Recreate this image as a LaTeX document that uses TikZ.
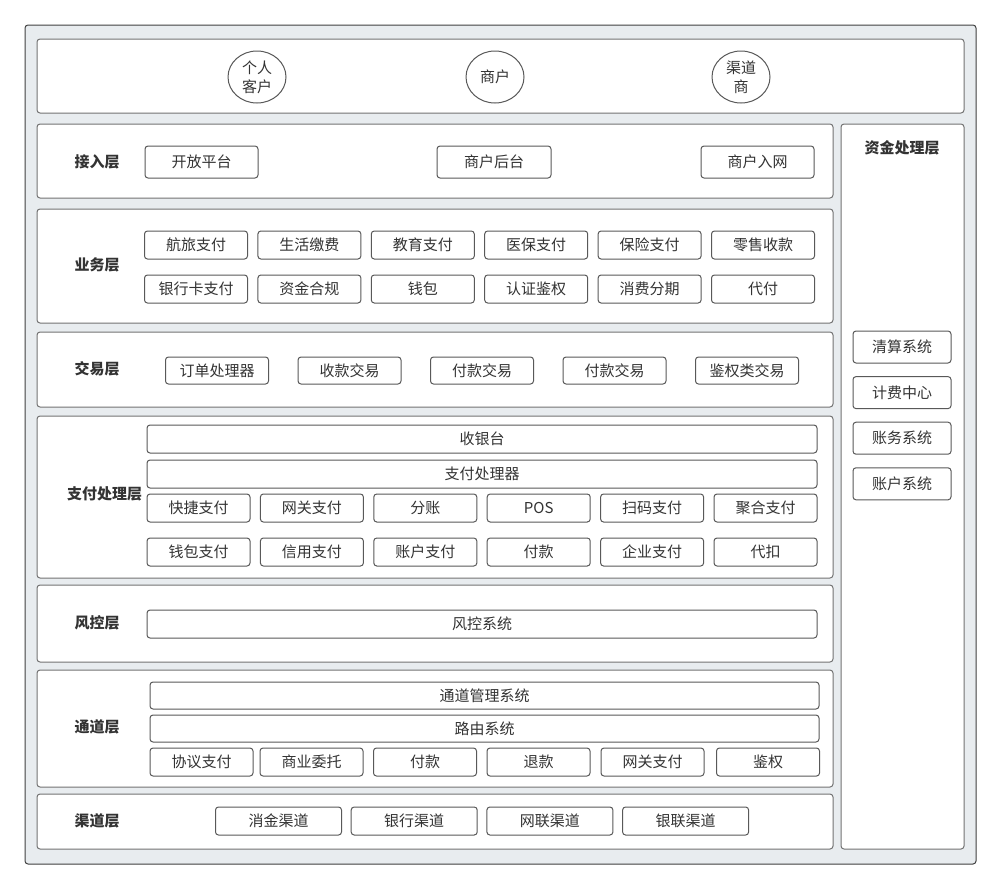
\documentclass[tikz,border=0pt]{standalone}
\usepackage{fontspec}
\setmainfont{Noto Sans CJK SC}
\usetikzlibrary{shapes.geometric}
\definecolor{bgcol}{HTML}{E8ECEF}
\definecolor{txtcol}{HTML}{333333}
\begin{document}
\begin{tikzpicture}[x=1pt,y=-1pt,
	layer/.style={draw=black!55,fill=white,rounded corners=3pt,line width=1pt,minimum width=796pt},
	item/.style={draw=black!65,fill=white,rounded corners=3pt,line width=1pt,minimum width=103pt,minimum height=28pt,inner sep=0pt,font=\fontsize{15}{18}\selectfont,text=txtcol},
	title/.style={font=\fontsize{15}{18}\selectfont\bfseries,text=txtcol},
	actor/.style={ellipse,draw=black!65,fill=white,line width=1pt,minimum width=58pt,minimum height=52pt,inner sep=0pt,align=center,font=\fontsize{15}{19}\selectfont,text=txtcol}]
	\useasboundingbox (0,0) rectangle (1000,889);
	\node [draw=black!75,fill=bgcol,rounded corners=3pt,line width=1pt,minimum width=951pt,minimum height=839pt] (frame) at (500.5,444.5) {};
	\node [layer,minimum width=927pt,minimum height=74pt] (top) at (500.5,76) {};
	\node [actor] (geren) at (257,77) {个人\\客户};
	\node [actor] (shanghu) at (495,77) {商户};
	\node [actor] (qudaoshang) at (741,77) {渠道\\商};
	\node [layer,minimum height=74pt] (jieru) at (435,161) {};
	\node [title] (jierut) at (97,162) {接入层};
	\node [item,minimum width=113pt,minimum height=32pt] (jr1) at (201.5,162) {开放平台};
	\node [item,minimum width=114pt,minimum height=32pt] (jr2) at (494,162) {商户后台};
	\node [item,minimum width=113pt,minimum height=32pt] (jr3) at (757.5,162) {商户入网};
	\node [layer,minimum height=114pt] (yewu) at (435,266) {};
	\node [title] (yewut) at (97,265) {业务层};
	\foreach \t [count=\i] in {航旅支付,生活缴费,教育支付,医保支付,保险支付,零售收款}
		\node [item] (ywa\i) at ({196+113.4*(\i-1)},245) {\t};
	\foreach \t [count=\i] in {银行卡支付,资金合规,钱包,认证鉴权,消费分期,代付}
		\node [item] (ywb\i) at ({196+113.4*(\i-1)},289) {\t};
	\node [layer,minimum height=75pt] (jiaoyi) at (435,369.5) {};
	\node [title] (jiaoyit) at (97,369) {交易层};
	\foreach \t [count=\i] in {订单处理器,收款交易,付款交易,付款交易,鉴权类交易}
		\node [item,minimum height=27pt] (jy\i) at ({217+132.5*(\i-1)},370.5) {\t};
	\node [layer,minimum height=162pt] (zhifu) at (435,497) {};
	\node [title] (zhifut) at (104.5,494) {支付处理层};
	\node [item,minimum width=670pt] (syt) at (482,439) {收银台};
	\node [item,minimum width=670pt] (zfclq) at (482,474) {支付处理器};
	\foreach \t [count=\i] in {快捷支付,网关支付,分账,POS,扫码支付,聚合支付}
		\node [item] (zfa\i) at ({198.5+113.4*(\i-1)},508) {\t};
	\foreach \t [count=\i] in {钱包支付,信用支付,账户支付,付款,企业支付,代扣}
		\node [item] (zfb\i) at ({198.5+113.4*(\i-1)},552) {\t};
	\node [layer,minimum height=77pt] (fengkong) at (435,623.5) {};
	\node [title] (fengkongt) at (97,623) {风控层};
	\node [item,minimum width=670pt] (fkxt) at (482,624) {风控系统};
	\node [layer,minimum height=117pt] (tongdao) at (435,728.5) {};
	\node [title] (tongdaot) at (97,727) {通道层};
	\node [item,minimum width=669pt,minimum height=27pt] (tdgl) at (484.5,695.5) {通道管理系统};
	\node [item,minimum width=669pt,minimum height=27pt] (lyxt) at (484.5,728.5) {路由系统};
	\foreach \t/\x [count=\i] in {协议支付/201.5,商业委托/311.5,付款/425,退款/538.5,网关支付/652.5,鉴权/768}
		\node [item] (td\i) at (\x,762) {\t};
	\node [layer,minimum height=55pt] (qudao) at (435,821.5) {};
	\node [title] (qudaot) at (97,821) {渠道层};
	\foreach \t [count=\i] in {消金渠道,银行渠道,网联渠道,银联渠道}
		\node [item,minimum width=126pt] (qd\i) at ({278.5+135.7*(\i-1)},821) {\t};
	\node [layer,minimum width=123pt,minimum height=725pt] (zijin) at (902.5,486.5) {};
	\node [title] (zijint) at (902,148) {资金处理层};
	\foreach \t [count=\i] in {清算系统,计费中心,账务系统,账户系统}
		\node [item,minimum width=98pt,minimum height=32pt] (zj\i) at (902,{347+45.6*(\i-1)}) {\t};
\end{tikzpicture}
\end{document}
